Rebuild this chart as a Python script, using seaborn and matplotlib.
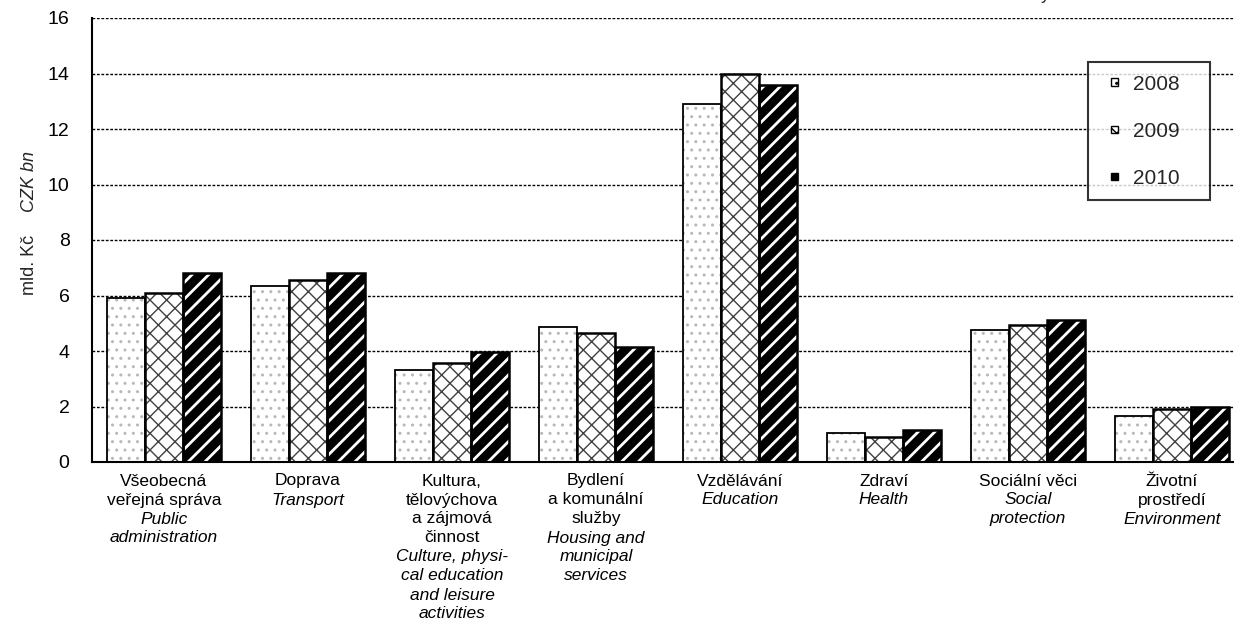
import matplotlib
matplotlib.use("Agg")
import matplotlib.pyplot as plt
import matplotlib.transforms as mtransforms
from matplotlib.legend_handler import HandlerPatch
from matplotlib.patches import Patch, Rectangle
import pandas as pd
import seaborn as sns

# values (mld. Kč)
categories = ["admin", "transport", "culture", "housing", "education", "health", "social", "environment"]
years = ["2008", "2009", "2010"]
values_2008 = [5.9, 6.35, 3.3, 4.85, 12.9, 1.05, 4.75, 1.65]
values_2009 = [6.1, 6.55, 3.55, 4.65, 14.0, 0.9, 4.95, 1.9]
values_2010 = [6.8, 6.8, 3.95, 4.15, 13.6, 1.15, 5.1, 2.0]

cz_labels = [
    ["Všeobecná", "veřejná správa"],
    ["Doprava"],
    ["Kultura,", "tělovýchova", "a zájmová", "činnost"],
    ["Bydlení", "a komunální", "služby"],
    ["Vzdělávání"],
    ["Zdraví"],
    ["Sociální věci"],
    ["Životní", "prostředí"],
]
en_labels = [
    ["Public", "administration"],
    ["Transport"],
    ["Culture, physi-", "cal education", "and leisure", "activities"],
    ["Housing and", "municipal", "services"],
    ["Education"],
    ["Health"],
    ["Social", "protection"],
    ["Environment"],
]
y_ticks = [0, 2, 4, 6, 8, 10, 12, 14, 16]

sns.set_theme(style="white")
plt.rcParams["font.family"] = ["Liberation Sans", "DejaVu Sans"]

df = pd.DataFrame({
    "category": categories * 3,
    "year": [y for y in years for _ in categories],
    "value": values_2008 + values_2009 + values_2010,
})

W, H = 1234, 643
fig = plt.figure(figsize=(W / 100, H / 100), dpi=100)
ax_left, ax_right, ax_top, ax_bot = 92, 1244, 18, 462
ax = fig.add_axes([ax_left / W, 1 - ax_bot / H, (ax_right - ax_left) / W, (ax_bot - ax_top) / H])

sns.barplot(data=df, x="category", y="value", hue="year", hue_order=years,
            order=categories, width=0.785, ax=ax, legend=False, saturation=1,
            palette=["white", "white", "black"], errorbar=None)

styles = {
    "2008": dict(face="white", hatch="..", hcolor="#b8b8b8", hlw=1.0, elw=1.3),
    "2009": dict(face="white", hatch="xx", hcolor="#404040", hlw=1.0, elw=1.8),
    "2010": dict(face="black", hatch="//", hcolor="white", hlw=2.0, elw=1.8),
}

bars = ax.patches[:len(categories) * 3]
for i, bar in enumerate(bars):
    st = styles[years[i // len(categories)]]
    bar.set_facecolor(st["face"])
    bar.set_edgecolor(st["hcolor"])
    bar.set_hatch(st["hatch"])
    bar.set_linewidth(0)
    if hasattr(bar, "set_hatch_linewidth"):
        bar.set_hatch_linewidth(st["hlw"])
    outline = Rectangle(bar.get_xy(), bar.get_width(), bar.get_height(),
                        fill=False, edgecolor="black", linewidth=st["elw"], zorder=bar.get_zorder() + 0.1)
    ax.add_patch(outline)

ax.set_ylim(0, 16)
ax.set_xlim(-0.5, len(categories) - 0.5)
ax.set_yticks(y_ticks)
ax.set_yticklabels([str(t) for t in y_ticks], fontsize=14)
ax.set_xticks([i - 0.5 for i in range(len(categories) + 1)])
ax.set_xticklabels([])
ax.tick_params(axis="both", direction="inout", length=9.4, width=1.3, color="black")
ax.tick_params(axis="y", pad=11.5, labelcolor="black")
ax.set_xlabel("")
ax.set_ylabel("")
for side in ["top", "right"]:
    ax.spines[side].set_visible(False)
for side in ["left", "bottom"]:
    ax.spines[side].set_color("black")
    ax.spines[side].set_linewidth(1.5)
ax.set_axisbelow(True)
ax.yaxis.grid(True, color="black", linestyle=(0, (2, 1.2)), linewidth=1.0)

# category labels: Czech regular, English italic
trans = mtransforms.blended_transform_factory(ax.transData, fig.transFigure)
for i, (cz, en) in enumerate(zip(cz_labels, en_labels)):
    lines = [(t, "normal") for t in cz] + [(t, "italic") for t in en]
    for k, (txt, style) in enumerate(lines):
        ax.text(i, 1 - (481 + 19 * k) / H, txt, transform=trans, ha="center", va="center",
                fontsize=12.5, fontstyle=style, color="black")

fig.text(30 / W, 1 - 265 / H, "mld. Kč", rotation=90, ha="center", va="center", fontsize=13)
fig.text(30 / W, 1 - 182 / H, "CZK bn", rotation=90, ha="center", va="center", fontsize=13, fontstyle="italic")
fig.text(1045 / W, 1 + 1 / H, "y", ha="center", va="baseline", fontsize=13)


def small_square(legend, orig_handle, xdescent, ydescent, width, height, fontsize):
    s = 5.5
    return Rectangle((-xdescent + width - s, -ydescent + (height - s) / 2), s, s)


handles = [
    Patch(facecolor=styles[y]["face"], edgecolor="black", hatch=styles[y]["hatch"], linewidth=1.0, label=y + "   ")
    for y in years
]
leg = ax.legend(handles=handles, loc="upper left",
                bbox_to_anchor=((1088 - ax_left) / (ax_right - ax_left), (ax_bot - 62) / (ax_bot - ax_top)),
                borderaxespad=0, frameon=True, fancybox=False, fontsize=15,
                handlelength=0.85, handleheight=0.7, handletextpad=0.72, labelspacing=1.35,
                borderpad=0.6, handler_map={Patch: HandlerPatch(patch_func=small_square)})
leg.get_frame().set_edgecolor("black")
leg.get_frame().set_linewidth(1.5)

fig.savefig("out.png", dpi=100)
